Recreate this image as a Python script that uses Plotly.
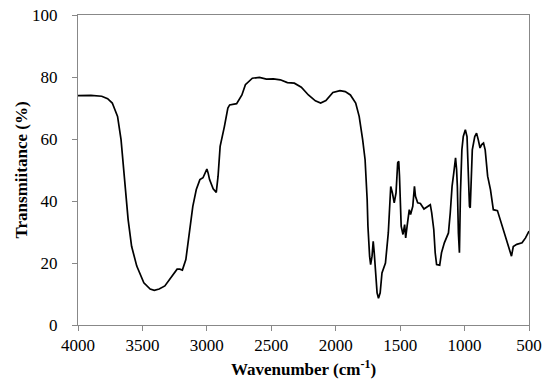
import plotly.graph_objects as go

wavenumber = [4000, 3900, 3816, 3770, 3734, 3693, 3666, 3647, 3630, 3611, 3584, 3544, 3489, 3440, 3408, 3370, 3326, 3272, 3231, 3210, 3190, 3163, 3136, 3109, 3082, 3054, 3030, 3014, 3000, 2990, 2979, 2951, 2927, 2913, 2897, 2864, 2837, 2823, 2769, 2728, 2701, 2647, 2592, 2538, 2484, 2430, 2375, 2321, 2267, 2212, 2158, 2117, 2076, 2022, 1967, 1926, 1886, 1845, 1818, 1791, 1772, 1756, 1750, 1737, 1729, 1718, 1709, 1701, 1690, 1679, 1668, 1655, 1641, 1614, 1592, 1581, 1573, 1560, 1546, 1532, 1519, 1511, 1505, 1492, 1478, 1465, 1457, 1446, 1429, 1419, 1402, 1389, 1381, 1364, 1343, 1315, 1288, 1266, 1255, 1239, 1228, 1217, 1193, 1179, 1157, 1138, 1125, 1111, 1097, 1084, 1070, 1062, 1056, 1048, 1040, 1032, 1021, 1010, 994, 981, 973, 962, 956, 948, 940, 921, 907, 894, 880, 867, 853, 840, 821, 799, 777, 745, 717, 677, 636, 622, 595, 554, 527, 500]
transmittance = [74.0, 74.1, 73.8, 73.0, 71.6, 67.3, 59.8, 51.2, 42.6, 34.0, 25.4, 19.0, 13.6, 11.6, 11.2, 11.6, 12.6, 15.8, 18.0, 18.0, 17.7, 21.1, 29.7, 38.3, 43.7, 46.9, 47.5, 49.0, 50.3, 49.0, 46.9, 43.9, 42.8, 48.0, 57.6, 64.0, 70.0, 71.0, 71.4, 74.2, 77.5, 79.6, 79.9, 79.3, 79.4, 79.1, 78.2, 78.0, 76.7, 74.2, 72.3, 71.6, 72.4, 75.0, 75.6, 75.3, 74.2, 71.6, 67.3, 59.8, 53.3, 40.5, 31.9, 22.2, 19.5, 22.2, 27.0, 23.3, 15.8, 10.4, 8.6, 10.4, 16.8, 20.0, 29.7, 40.5, 44.7, 42.6, 39.4, 42.6, 52.3, 52.8, 48.0, 31.9, 29.2, 32.4, 28.1, 31.9, 37.2, 35.6, 38.3, 44.7, 41.5, 39.4, 39.2, 37.4, 38.1, 38.8, 36.2, 30.8, 23.3, 19.5, 19.3, 23.3, 26.5, 28.1, 29.7, 36.2, 44.7, 49.0, 53.9, 50.2, 44.7, 29.7, 23.3, 42.6, 56.5, 60.8, 63.0, 60.8, 51.2, 38.3, 37.8, 47.0, 56.5, 60.8, 61.9, 59.8, 57.1, 58.2, 58.7, 56.5, 48.0, 43.7, 37.2, 36.9, 33.0, 28.1, 22.2, 25.3, 26.0, 26.5, 28.1, 30.3]

x_ticks = [4000, 3500, 3000, 2500, 2000, 1500, 1000, 500]
y_ticks = [0, 20, 40, 60, 80, 100]

fig = go.Figure()
fig.add_trace(go.Scatter(x=wavenumber, y=transmittance, mode="lines",
                         line=dict(color="black", width=1.7), showlegend=False))

axis_font = dict(family="Liberation Serif", size=17, color="black")
title_font = dict(family="Liberation Serif", size=17, color="black")
fig.update_layout(
    width=550, height=387,
    margin=dict(l=78, r=21, t=15, b=62),
    paper_bgcolor="white", plot_bgcolor="white",
    font=axis_font,
    xaxis=dict(range=[4000, 500], tickvals=x_ticks, ticks="outside", ticklen=5,
               tickcolor="#888", linecolor="#888", linewidth=1, mirror=True,
               showgrid=False, zeroline=False, tickfont=axis_font, automargin=False,
               title=dict(text="<b>Wavenumber (cm<sup>-1</sup>)</b>",
                          font=title_font, standoff=8)),
    yaxis=dict(range=[0, 100], tickvals=y_ticks, ticks="outside", ticklen=5,
               tickcolor="#888", linecolor="#888", linewidth=1, mirror=True,
               showgrid=False, zeroline=False, tickfont=axis_font, automargin=False,
               ticklabelstandoff=11,
               title=dict(text="<b>Transmiitance (%)</b>",
                          font=title_font, standoff=0)),
)
fig.write_html("out.html", config={"displayModeBar": False},
               post_script="document.body.style.margin='0';")
